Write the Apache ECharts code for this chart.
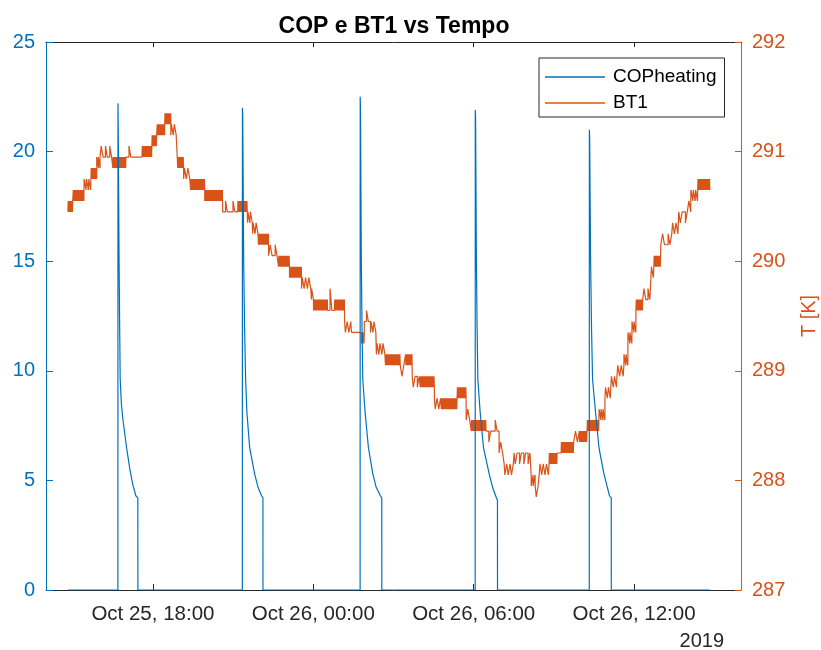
<!DOCTYPE html>
<html>
<head>
<meta charset="utf-8">
<title>COP e BT1 vs Tempo</title>
<script src="https://cdn.jsdelivr.net/npm/echarts@6/dist/echarts.min.js"></script>
<style>
  html, body { margin: 0; padding: 0; background: #fff; overflow: hidden; }
  #chart { width: 821px; height: 650px; }
</style>
</head>
<body>
<div id="chart"></div>
<script>
// Time is expressed in hours since Oct 25, 2019 00:00.
const timeMin = 14;
const timeMax = 40;
const xTickHours = [18, 24, 30, 36];
const xTickLabels = ['Oct 25, 18:00', 'Oct 26, 00:00', 'Oct 26, 06:00', 'Oct 26, 12:00'];
const yearLabel = '2019';

// COP heating: idle (0) outside the heating pulses.
const copFirst = 14.82;
const copLast = 38.83;
const copPulseStart = [16.689, 21.345, 25.751, 30.056, 34.324];
// Each pulse: [minutes after start, COP]
const copPulse1 = [[0, 0], [0.2, 22.2], [0.9, 20.8], [2.7, 15], [4, 12], [5.2, 9.6], [7.8, 8.5], [11.2, 7.8], [19.5, 6.5], [26.9, 5.5], [33.6, 4.8], [40.3, 4.3], [44.8, 4.2], [44.9, 0]];
const copPulse2 = [[0, 0], [0.2, 22.0], [0.9, 21.6], [3, 15], [5, 12], [7.4, 9.6], [10.3, 8.1], [16.4, 6.5], [27.6, 5.3], [35, 4.7], [43.2, 4.3], [46.2, 4.2], [46.3, 0]];
const copPulse3 = [[0, 0], [0.2, 22.5], [0.9, 21.9], [2.7, 15], [4.3, 12], [6, 9.6], [11.2, 8.1], [18.6, 6.5], [28.5, 5.3], [35.8, 4.7], [45.5, 4.3], [48.6, 4.2], [48.7, 0]];
const copPulse4 = [[0, 0], [0.2, 21.9], [0.9, 21.5], [2.7, 15], [4.3, 12], [6, 9.6], [11.2, 8.1], [18.6, 6.5], [31.4, 5.3], [38.8, 4.7], [47.7, 4.2], [50, 4.1], [50.1, 0]];
const copPulse5 = [[0, 0], [0.2, 21.0], [0.9, 20.6], [3, 15], [5, 12], [7.4, 9.6], [14.1, 8.1], [21.7, 6.5], [32.9, 5.3], [40.3, 4.7], [45.5, 4.3], [49.3, 4.2], [49.4, 0]];
const copPulses = [copPulse1, copPulse2, copPulse3, copPulse4, copPulse5];

// BT1 readings: [start h, end h, level K, neighbouring level K, flicker count (-1 = continuous flicker)]
const bt1Segments = [
  [14.82, 15.01, 290.45, 290.55, -1],
  [15.01, 15.42, 290.55, 290.65, -1],
  [15.42, 15.68, 290.65, 290.75, 3],
  [15.68, 15.90, 290.75, 290.85, -1],
  [15.90, 16.02, 290.85, 290.95, 2],
  [16.02, 16.50, 290.95, 291.05, 3],
  [16.50, 16.99, 290.85, 290.95, -1],
  [16.99, 17.29, 290.95, 291.05, 1],
  [17.29, 17.59, 290.95, 290.95, 0],
  [17.59, 17.96, 290.95, 291.05, -1],
  [17.96, 18.15, 291.05, 291.15, -1],
  [18.15, 18.44, 291.15, 291.25, -1],
  [18.44, 18.67, 291.25, 291.35, -1],
  [18.67, 18.89, 291.15, 291.25, 2],
  [18.89, 18.93, 291.05, 291.05, 0],
  [18.93, 19.15, 290.85, 290.95, -1],
  [19.15, 19.41, 290.75, 290.85, 2],
  [19.41, 19.94, 290.65, 290.75, -1],
  [19.94, 20.61, 290.55, 290.65, -1],
  [20.61, 21.17, 290.45, 290.55, 2],
  [21.17, 21.54, 290.45, 290.55, -1],
  [21.54, 21.73, 290.35, 290.45, 2],
  [21.73, 21.95, 290.25, 290.35, 2],
  [21.95, 22.33, 290.15, 290.25, -1],
  [22.33, 22.70, 290.05, 290.15, 2],
  [22.70, 23.11, 289.95, 290.05, -1],
  [23.11, 23.56, 289.85, 289.95, -1],
  [23.56, 23.93, 289.75, 289.85, 3],
  [23.93, 24.01, 289.65, 289.75, 1],
  [24.01, 24.53, 289.55, 289.65, -1],
  [24.53, 24.79, 289.55, 289.75, 1],
  [24.79, 25.17, 289.55, 289.65, -1],
  [25.17, 25.43, 289.45, 289.35, 2],
  [25.43, 25.80, 289.35, 289.35, 0],
  [25.80, 25.91, 289.25, 289.35, -1],
  [25.91, 26.14, 289.45, 289.55, 1],
  [26.14, 26.36, 289.35, 289.45, 2],
  [26.36, 26.70, 289.15, 289.25, 3],
  [26.70, 27.26, 289.05, 289.15, -1],
  [27.26, 27.44, 289.05, 288.95, 1],
  [27.44, 27.70, 289.05, 289.15, -1],
  [27.70, 28.00, 288.95, 288.85, 2],
  [28.00, 28.53, 288.85, 288.95, -1],
  [28.53, 28.79, 288.75, 288.65, 2],
  [28.79, 29.38, 288.65, 288.75, -1],
  [29.38, 29.72, 288.75, 288.85, -1],
  [29.72, 29.91, 288.55, 288.65, 1],
  [29.91, 30.47, 288.45, 288.55, -1],
  [30.47, 30.73, 288.45, 288.35, 1],
  [30.73, 30.95, 288.45, 288.55, 1],
  [30.95, 31.14, 288.25, 288.35, 1],
  [31.14, 31.51, 288.15, 288.05, 3],
  [31.51, 32.15, 288.25, 288.15, 4],
  [32.15, 32.30, 288.05, 287.95, 2],
  [32.30, 32.45, 287.95, 287.85, 1],
  [32.45, 32.82, 288.05, 288.15, 3],
  [32.82, 33.12, 288.15, 288.25, -1],
  [33.12, 33.27, 288.25, 288.25, 0],
  [33.27, 33.75, 288.25, 288.35, -1],
  [33.75, 33.94, 288.35, 288.45, 1],
  [33.94, 34.24, 288.35, 288.45, -1],
  [34.24, 34.69, 288.45, 288.55, -1],
  [34.69, 34.91, 288.55, 288.65, 3],
  [34.91, 35.13, 288.75, 288.85, 2],
  [35.13, 35.36, 288.85, 288.95, 2],
  [35.36, 35.62, 288.95, 289.05, 2],
  [35.62, 35.77, 289.05, 289.15, 2],
  [35.77, 35.92, 289.25, 289.35, 2],
  [35.92, 36.07, 289.35, 289.45, 2],
  [36.07, 36.33, 289.55, 289.65, -1],
  [36.33, 36.63, 289.65, 289.75, 2],
  [36.63, 36.74, 289.85, 289.95, 1],
  [36.74, 37.00, 289.95, 290.05, -1],
  [37.00, 37.41, 290.15, 290.25, 2],
  [37.41, 37.67, 290.25, 290.35, 2],
  [37.67, 38.05, 290.45, 290.35, 2],
  [38.05, 38.12, 290.45, 290.55, 1],
  [38.12, 38.38, 290.55, 290.65, 3],
  [38.38, 38.83, 290.65, 290.75, -1]
];

const COP_COLOR = '#0072BD';
const T_COLOR = '#D95319';
const AXIS_COLOR = '#262626';
const FONT = '"Liberation Sans", Arial, Helvetica, sans-serif';
const FLICKER_STEP = 0.012;  // sensor sampling interval while a reading toggles (h)
const SPIKE_WIDTH = 0.07;    // duration of an isolated toggle (h)

// Build COP series: baseline with pulses
const copData = [[copFirst, 0]];
copPulseStart.forEach((t0, i) => {
  copPulses[i].forEach(([m, v]) => copData.push([t0 + m / 60, v]));
});
copData.push([copLast, 0]);

// Build BT1 series from its reading segments
const bt1Data = [];
bt1Segments.forEach(([t0, t1, base, alt, flicks]) => {
  if (flicks < 0) {
    let k = 0;
    for (let t = t0; t < t1 - 1e-9; t += FLICKER_STEP, k++) {
      bt1Data.push([t, k % 2 ? alt : base]);
    }
  } else {
    bt1Data.push([t0, base]);
    const span = (t1 - t0) / Math.max(flicks, 1);
    for (let i = 0; i < flicks; i++) {
      const c = t0 + span * (i + 0.5);
      bt1Data.push([c - SPIKE_WIDTH / 2, alt]);
      bt1Data.push([c + SPIKE_WIDTH / 2, base]);
    }
  }
});
const lastSeg = bt1Segments[bt1Segments.length - 1];
bt1Data.push([lastSeg[1], lastSeg[2]]);

const chart = echarts.init(document.getElementById('chart'), null, { renderer: 'canvas' });

chart.setOption({
  animation: false,
  backgroundColor: '#fff',
  textStyle: { fontFamily: FONT },
  title: {
    text: 'COP e BT1 vs Tempo',
    left: 389,
    textAlign: 'center',
    top: 10,
    textStyle: { fontFamily: FONT, fontSize: 23, fontWeight: 'bold', color: '#000' }
  },
  grid: { left: 46, right: 80, top: 42, bottom: 60, containLabel: false, outerBoundsMode: 'none' },
  legend: {
    orient: 'vertical',
    left: 539,
    top: 58,
    backgroundColor: '#fff',
    borderColor: AXIS_COLOR,
    borderWidth: 1,
    borderRadius: 0,
    padding: [8, 8, 3, 6],
    itemGap: 4,
    itemWidth: 60,
    itemHeight: 1.3,
    icon: 'rect',
    selectedMode: false,
    textStyle: { fontFamily: FONT, fontSize: 19, color: '#000', lineHeight: 22, padding: [0, 0, 0, 3] },
    data: ['COPheating', 'BT1']
  },
  xAxis: [
    {
      type: 'value',
      position: 'bottom',
      min: timeMin,
      max: timeMax,
      splitLine: { show: false },
      axisLine: { show: true, onZero: false, lineStyle: { color: AXIS_COLOR, width: 1 } },
      axisTick: { show: true, inside: true, length: 6, customValues: xTickHours, lineStyle: { color: AXIS_COLOR } },
      axisLabel: {
        show: true,
        customValues: xTickHours,
        margin: 14,
        color: AXIS_COLOR,
        fontFamily: FONT,
        fontSize: 20.5,
        formatter: v => {
          const i = xTickHours.indexOf(v);
          return i >= 0 ? xTickLabels[i] : '';
        }
      }
    },
    {
      type: 'value',
      position: 'top',
      min: timeMin,
      max: timeMax,
      splitLine: { show: false },
      axisLine: { show: true, onZero: false, lineStyle: { color: AXIS_COLOR, width: 1 } },
      axisTick: { show: true, inside: true, length: 5, customValues: xTickHours, lineStyle: { color: AXIS_COLOR } },
      axisLabel: { show: false }
    }
  ],
  yAxis: [
    {
      type: 'value',
      position: 'left',
      min: 0,
      max: 25,
      interval: 5,
      splitLine: { show: false },
      axisLine: { show: true, onZero: false, lineStyle: { color: COP_COLOR, width: 1 } },
      axisTick: { show: true, inside: true, length: 7, lineStyle: { color: COP_COLOR } },
      axisLabel: { color: COP_COLOR, fontFamily: FONT, fontSize: 20, margin: 11 }
    },
    {
      type: 'value',
      position: 'right',
      min: 287,
      max: 292,
      interval: 1,
      splitLine: { show: false },
      axisLine: { show: true, onZero: false, lineStyle: { color: T_COLOR, width: 1 } },
      axisTick: { show: true, inside: true, length: 6, lineStyle: { color: T_COLOR } },
      axisLabel: { color: T_COLOR, fontFamily: FONT, fontSize: 20, margin: 11 },
      name: 'T [K]',
      nameLocation: 'middle',
      nameRotate: 90,
      nameGap: 58,
      nameTextStyle: { color: T_COLOR, fontFamily: FONT, fontSize: 20 }
    }
  ],
  graphic: [
    {
      type: 'text',
      right: 821 - 724,
      top: 631,
      style: { text: yearLabel, fill: AXIS_COLOR, font: '20px ' + FONT }
    }
  ],
  series: [
    {
      name: 'BT1',
      type: 'line',
      xAxisIndex: 0,
      yAxisIndex: 1,
      data: bt1Data,
      step: 'end',
      symbol: 'none',
      showSymbol: false,
      z: 2,
      lineStyle: { color: T_COLOR, width: 1.2 },
      itemStyle: { color: T_COLOR }
    },
    {
      name: 'COPheating',
      type: 'line',
      xAxisIndex: 0,
      yAxisIndex: 0,
      data: copData,
      symbol: 'none',
      showSymbol: false,
      z: 3,
      lineStyle: { color: COP_COLOR, width: 1.2 },
      itemStyle: { color: COP_COLOR }
    }
  ]
});
</script>
</body>
</html>
